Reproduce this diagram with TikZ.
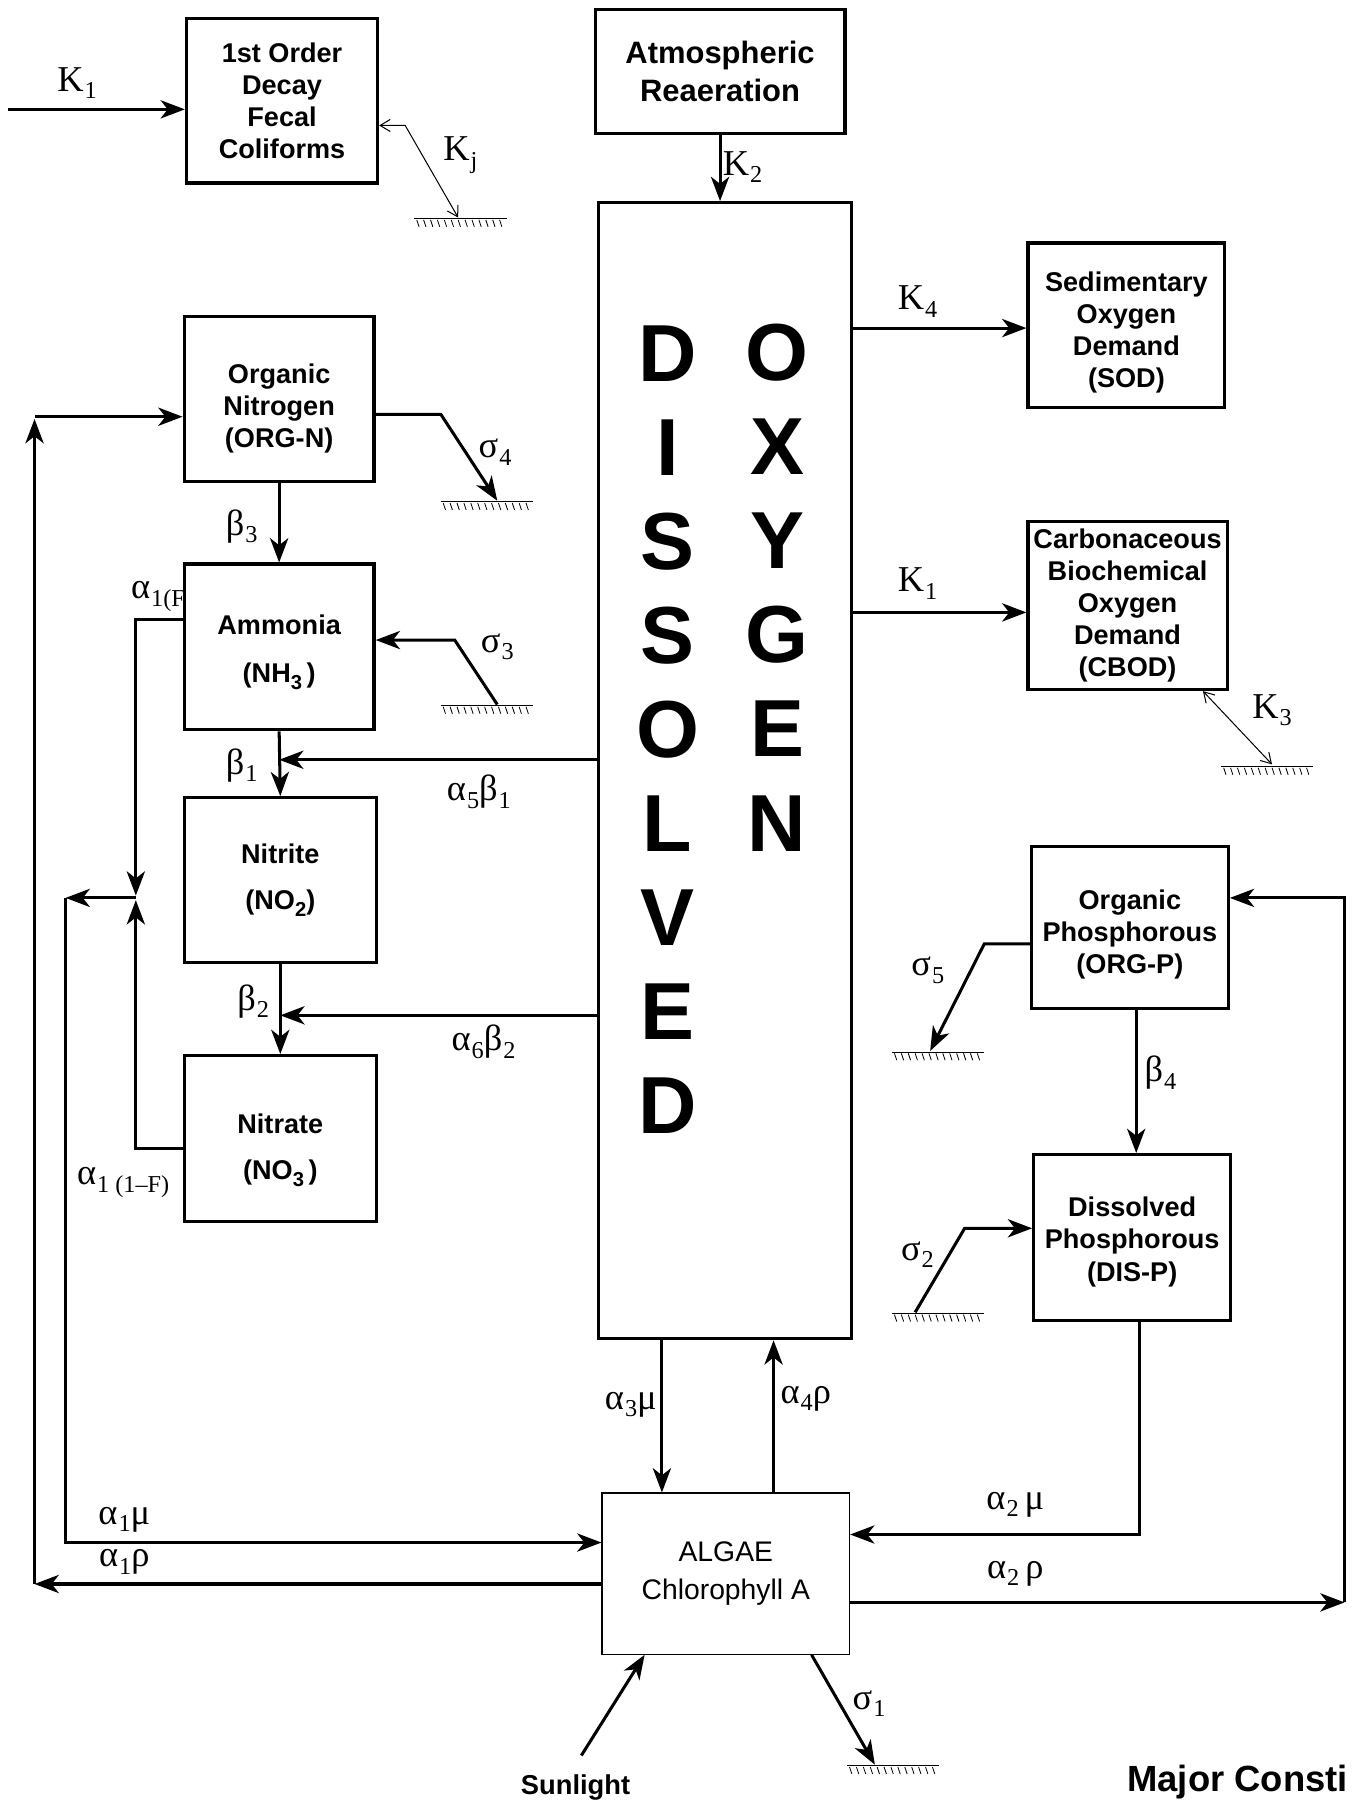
\documentclass[tikz,border=0pt]{standalone}
\usepackage{amsmath}
\usepackage{fontspec}
\setmainfont{Liberation Sans}
\newfontfamily\coeffont{Liberation Serif}
\usepackage{tikz}
\usetikzlibrary{arrows.meta,calc}

\newcommand{\boxfont}{\fontsize{13.4}{15.9}\selectfont\bfseries}
\newcommand{\symfont}{\fontsize{18}{20}\selectfont\coeffont}
\newcommand{\lowsub}[1]{\raisebox{-0.45ex}{\fontsize{10}{10}\selectfont #1}}
% rate symbol with a low subscript
\newcommand{\coef}[2]{#1\kern0.5pt\raisebox{-0.45ex}{\fontsize{12}{12}\selectfont #2}}
% pushes a box text down by half the given length
\newcommand{\droptext}[1]{\rule{0pt}{\dimexpr10pt+#1\relax}}

\tikzset{
  box/.style={draw, line width=1.6pt, fill=white, align=center, font=\boxfont, inner sep=0pt},
  flow/.style={->, line width=1.5pt},
  fine/.style={<->, line width=0.5pt, >={Straight Barb[length=5pt,width=6pt]}},
  lbl/.style={font=\symfont, inner sep=0pt},
  sediment/.pic={
    \draw[line width=0.5pt] (-40,0) -- (40,0);
    \foreach \t in {-38,-32,...,38} \draw[line width=0.4pt] (\t,1) -- (\t+2,7);
  }
}

\begin{document}
\begin{tikzpicture}[x=0.02cm, y=-0.02cm, >={Stealth[length=12pt,width=9pt,inset=3.5pt]}]
\useasboundingbox (0,0) rectangle (1178,1568);

% label partly hidden behind the ammonia box
\node[lbl, anchor=east] (a1f) at (168,518) {\coef{α}{1(F)}};

% ---------- boxes ----------
\node[box, minimum width=3.32cm, minimum height=2.86cm] (fecal) at (245,87.5) {1st Order\\Decay\\Fecal\\Coliforms};
\node[box, minimum width=4.34cm, minimum height=2.16cm, font=\fontsize{15.3}{18.7}\selectfont\bfseries] (atmos) at (625.5,62) {Atmospheric\\Reaeration};
\node[box, minimum width=4.40cm, minimum height=19.74cm] (do) at (630,669.5) {};
\node[font=\fontsize{40}{46.5}\selectfont\bfseries, align=center, inner sep=0pt] (dissolved) at (580,634) {D\\I\\S\\S\\O\\L\\V\\E\\D};
\node[font=\fontsize{40}{46.5}\selectfont\bfseries, align=center, inner sep=0pt] (oxygen) at (675,510.5) {O\\X\\Y\\G\\E\\N};
\node[box, minimum width=3.42cm, minimum height=2.86cm] (sod) at (978.5,282.5) {\droptext{7pt}Sedimentary\\Oxygen\\Demand\\(SOD)};
\node[box, minimum width=3.46cm, minimum height=2.92cm] (cbod) at (979.5,526) {Carbonaceous\\Biochemical\\Oxygen\\Demand\\(CBOD)};
\node[box, minimum width=3.30cm, minimum height=2.86cm] (orgN) at (242.5,346.5) {\droptext{9pt}Organic\\Nitrogen\\(ORG-N)};
\node[box, minimum width=3.30cm, minimum height=2.88cm] (nh3) at (242.5,562) {\droptext{5pt}Ammonia\\[8pt](NH\lowsub{3}\,)};
\node[box, minimum width=3.34cm, minimum height=2.86cm] (no2) at (243.5,764.5) {Nitrite\\[7pt](NO\lowsub{2})};
\node[box, minimum width=3.34cm, minimum height=2.88cm] (no3) at (243.5,989) {\droptext{11pt}Nitrate\\[7pt](NO\lowsub{3}\,)};
\node[box, minimum width=3.42cm, minimum height=2.82cm] (orgP) at (981.5,805.5) {\droptext{7pt}Organic\\Phosphorous\\(ORG-P)};
\node[box, minimum width=3.42cm, minimum height=2.88cm] (disP) at (983.5,1075) {\droptext{4pt}Dissolved\\Phosphorous\\(DIS-P)};
\node[box, line width=0.6pt, minimum width=4.30cm, minimum height=2.80cm, font=\fontsize{14}{18.7}\selectfont] (algae) at (630.5,1367) {ALGAE\\Chlorophyll A};

% ---------- sinks ----------
\pic at (400,190) {sediment};
\pic at (423,436) {sediment};
\pic at (423,613) {sediment};
\pic at (1101,666) {sediment};
\pic at (815,914) {sediment};
\pic at (815,1141) {sediment};
\pic at (776,1534) {sediment};
\coordinate (gj) at (398,189);
\coordinate (g4) at (432,435);
\coordinate (g3) at (432,612);
\coordinate (gk3) at (1105,664);
\coordinate (g5) at (808,913);
\coordinate (g2) at (795,1140);
\coordinate (g1) at (760,1533);
\coordinate (k1in) at (7,95);
\coordinate (sunfoot) at (505,1525);
\coordinate (jn) at (118,780);

% ---------- fecal coliforms ----------
\draw[flow] (k1in) -- (fecal.west |- k1in);
\node[lbl] (k1a) at (67,72) {\coef{K}{1}};
\draw[fine] (gj) -- (352,109) -- (fecal.east |- 0,109);
\node[lbl] (kj) at (400,135) {\coef{K}{j}};

% ---------- oxygen column ----------
\draw[flow] (atmos.south) -- (atmos.south |- do.north);
\node[lbl] (k2) at (645,145) {\coef{K}{2}};
\draw[flow] (do.east |- 0,285) -- (sod.west |- 0,285);
\node[lbl] (k4) at (797,262) {\coef{K}{4}};
\draw[flow] (do.east |- 0,532) -- (cbod.west |- 0,532);
\node[lbl] (k1b) at (797,507) {\coef{K}{1}};
\draw[fine] (cbod.south -| 1045,0) -- (gk3);
\node[lbl] (k3) at (1105,617) {\coef{K}{3}};

% ---------- nitrogen chain ----------
\draw[flow] (orgN.east |- 0,360) -- (383,360) -- (g4);
\node[lbl] (s4) at (430,393) {\coef{σ}{4}};
\draw[flow] (orgN.south) -- (nh3.north);
\node[lbl] (b3) at (210,457) {\coef{β}{3}};
\draw[flow] (g3) -- (395,556) -- (nh3.east |- 0,556);
\node[lbl] (s3) at (432,562) {\coef{σ}{3}};
\draw[flow] (nh3.south) -- (no2.north);
\node[lbl] (b1) at (210,665) {\coef{β}{1}};
\draw[flow] (do.west |- 0,660) -- (nh3.south |- 0,660);
\node[lbl] (a5b1) at (416,688) {\coef{α}{5}\coef{β}{1}};
\draw[flow] (no2.south) -- (no3.north);
\node[lbl] (b2) at (220,870) {\coef{β}{2}};
\draw[flow] (do.west |- 0,882) -- (no2.south |- 0,882);
\node[lbl] (a6b2) at (420,905) {\coef{α}{6}\coef{β}{2}};
\draw[flow] (nh3.west |- 0,538) -- (118,538) -- (118,778);
\draw[flow] (no3.west |- 0,998) -- (118,998) -- (118,782);
\node[lbl] (a1nf) at (107,1027) {\coef{α}{1 (1\textendash F)}};
\draw[flow] (jn) -- (57,780);
\draw[flow] (57,780) -- (57,1340) -- (algae.west |- 0,1340);
\node[lbl] (a1mu) at (108,1320) {\coef{α}{1}μ};
\draw[flow] (algae.west |- 0,1376) -- (30,1376);
\draw[flow] (30,1376) -- (30,364);
\draw[flow] (30,362) -- (orgN.west |- 0,362);
\node[lbl] (a1rho) at (108,1357) {\coef{α}{1}ρ};

% ---------- algae ----------
\draw[flow] (do.south -| 575,0) -- (algae.north -| 575,0);
\node[lbl] (a3mu) at (548,1220) {\coef{α}{3}μ};
\draw[flow] (algae.north -| 672,0) -- (do.south -| 672,0);
\node[lbl] (a4rho) at (700,1215) {\coef{α}{4}ρ};
\draw[flow] (sunfoot) -- (algae.south -| 560,0);
\node[font=\fontsize{13.5}{15}\selectfont\bfseries] (sun) at (500,1553) {Sunlight};
\draw[flow] (algae.south -| 705,0) -- (g1);
\node[lbl] (s1) at (755,1480) {\coef{σ}{1}};

% ---------- phosphorus chain ----------
\draw[flow] (orgP.west |- 0,820) -- (855,820) -- (g5);
\node[lbl] (s5) at (806,843) {\coef{σ}{5}};
\draw[flow] (orgP.south -| 987,0) -- (disP.north -| 987,0);
\node[lbl] (b4) at (1008,932) {\coef{β}{4}};
\draw[flow] (g2) -- (838,1067) -- (disP.west |- 0,1067);
\node[lbl] (s2) at (797,1090) {\coef{σ}{2}};
\draw[flow] (disP.south -| 990,0) -- (990,1333) -- (algae.east |- 0,1333);
\node[lbl] (a2mu) at (882,1307) {\coef{α}{2}\,μ};
\draw[flow] (algae.east |- 0,1392) -- (1168,1392);
\draw[flow] (1168,1392) -- (1168,780) -- (orgP.east |- 0,780);
\node[lbl] (a2rho) at (882,1367) {\coef{α}{2}\,ρ};

\node[anchor=east, font=\fontsize{18}{20}\selectfont\bfseries] (major) at (1177,1548) {Major Consti};
\end{tikzpicture}
\end{document}
